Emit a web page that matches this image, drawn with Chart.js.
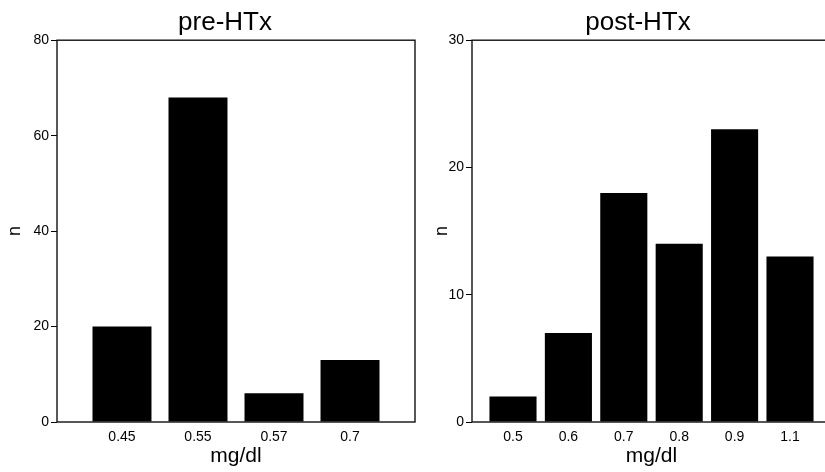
<!DOCTYPE html>
<html>
<head>
<meta charset="utf-8">
<script src="https://cdn.jsdelivr.net/npm/chart.js@4.4.1/dist/chart.umd.min.js"></script>
<style>
html, body { margin: 0; padding: 0; background: #fff; overflow: hidden; width: 825px; height: 472px; }
.panel { position: absolute; top: 0; height: 472px; }
#pre { left: 0; width: 450px; }
#post { left: 415px; width: 446px; }
</style>
</head>
<body>
<div class="panel" id="pre"><canvas id="preChart"></canvas></div>
<div class="panel" id="post"><canvas id="postChart"></canvas></div>
<script>
// pre-HTx distribution
const preLabels = ["0.45", "0.55", "0.57", "0.7"];
const preCounts = [20, 68, 6, 13];
const preMax = 80, preStep = 20;

// post-HTx distribution
const postLabels = ["0.5", "0.6", "0.7", "0.8", "0.9", "1.1"];
const postCounts = [2, 7, 18, 14, 23, 13];
const postMax = 30, postStep = 10;

Chart.defaults.font.family = "'Liberation Sans', Arial, Helvetica, sans-serif";
Chart.defaults.color = "#000";

// box round the plot area
const framePlugin = {
    id: "frame",
    afterDatasetsDraw: function (chart) {
        const a = chart.chartArea, ctx = chart.ctx;
        ctx.save();
        ctx.strokeStyle = "#111";
        ctx.lineWidth = 1.4;
        ctx.strokeRect(a.left, a.top, a.right - a.left, a.bottom - a.top);
        ctx.restore();
    }
};

function makeChart(id, title, labels, counts, yMax, yStep, opts) {
    const ctx = document.getElementById(id).getContext("2d");
    return new Chart(ctx, {
        type: "bar",
        data: {
            datasets: [{
                data: counts.map(function (v, i) { return {x: i, y: v}; }),
                backgroundColor: "#000",
                borderWidth: 0,
                categoryPercentage: 1,
                barPercentage: opts.barPct
            }]
        },
        options: {
            responsive: true,
            maintainAspectRatio: false,
            devicePixelRatio: 1,
            animation: false,
            layout: {padding: 0},
            plugins: {
                legend: {display: false},
                tooltip: {enabled: false},
                title: {
                    display: true,
                    text: title,
                    font: {size: 26, weight: "normal"},
                    color: "#000",
                    padding: {top: 7, bottom: 2}
                }
            },
            scales: {
                x: {
                    type: "linear",
                    offset: false,
                    min: -opts.offset,
                    max: labels.length - 1 + opts.offset,
                    afterBuildTicks: function (sc) {
                        sc.ticks = labels.map(function (l, i) { return {value: i}; });
                    },
                    afterFit: function (sc) { sc.height = 50; },
                    grid: {display: false, drawTicks: false},
                    border: {display: false},
                    ticks: {
                        autoSkip: false,
                        maxRotation: 0,
                        padding: 7,
                        font: {size: 14},
                        callback: function (v) { return labels[v]; }
                    },
                    title: {display: true, text: "mg/dl", font: {size: 21}, padding: 3}
                },
                y: {
                    min: 0,
                    max: yMax,
                    afterFit: function (sc) { sc.width = 57; },
                    grid: {display: true, drawOnChartArea: false, drawTicks: true, tickLength: 6, color: "#000"},
                    border: {display: false},
                    ticks: {stepSize: yStep, padding: 2, font: {size: 14}},
                    title: {display: true, text: "n", font: {size: 18}, padding: opts.yTitlePad}
                },
                // empty right-hand space, keeps the title centred on the whole panel
                yRight: {
                    position: "right",
                    afterFit: function (sc) { sc.width = opts.padRight; },
                    grid: {display: false},
                    border: {display: false},
                    ticks: {display: false}
                }
            }
        },
        plugins: [framePlugin]
    });
}

makeChart("preChart", "pre-HTx", preLabels, preCounts, preMax, preStep,
    {offset: 0.855, barPct: 0.776, padRight: 35, yTitlePad: 4});
makeChart("postChart", "post-HTx", postLabels, postCounts, postMax, postStep,
    {offset: 0.74, barPct: 0.85, padRight: 30, yTitlePad: 16});
</script>
</body>
</html>
